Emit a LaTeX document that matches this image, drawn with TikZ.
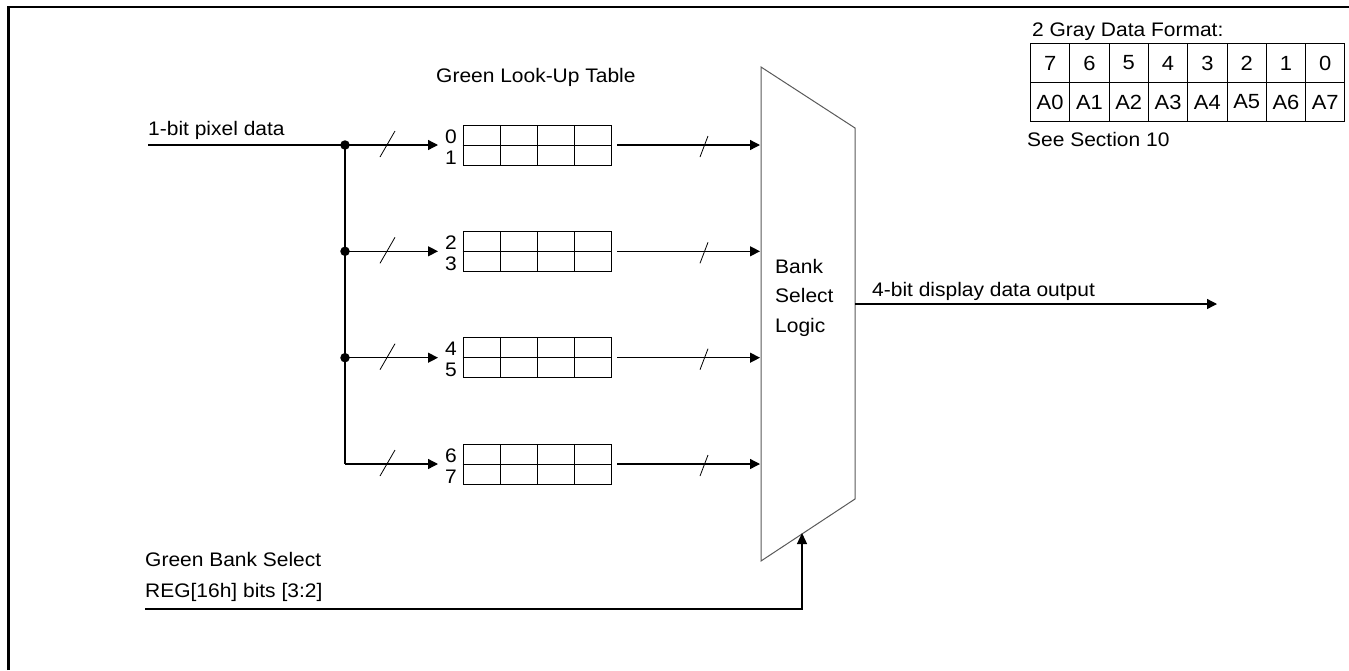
\documentclass[tikz,border=0pt]{standalone}
\usepackage{fontspec}
\setmainfont{Liberation Sans}
\usepackage{graphicx}
\usetikzlibrary{arrows.meta}
\newcommand\tx[1]{\scalebox{1.07}[1]{#1}}
\begin{document}
\begin{tikzpicture}[x=1pt,y=-1pt,
  lbl/.style={inner sep=0pt, anchor=base west, font=\fontsize{19.6}{22}\selectfont},
  conn/.style={line width=1.3pt},
  arr/.style={conn,-{Triangle[length=10pt,width=10pt]}},
  cell/.style={line width=1pt},
  lut/.style={draw, cell, minimum width=148pt, minimum height=40pt, inner sep=0pt},
  hcell/.style={draw, cell, minimum width=39.3pt, minimum height=39pt, inner sep=0pt, anchor=north west, font=\fontsize{20.5}{22}\selectfont},
  slash/.style={line width=0.8pt},
  dot/.style={circle, fill, inner sep=0pt, minimum size=9.5pt}
]
\useasboundingbox (0,0) rectangle (1349,670);
% frame
\draw[line width=2.7pt] (8.7,670) -- (8.7,7) -- (1349,7);

% texts
\node[lbl] (tpix) at (148,135) {\tx{1-bit pixel data}};
\node[lbl] (tlut) at (436,82) {\tx{Green Look-Up Table}};
\node[lbl] (tgbs) at (145,566) {\tx{Green Bank Select}};
\node[lbl] (treg) at (145,597) {\tx{REG[16h] bits [3:2]}};
\node[lbl] (tbank) at (775,273) {\tx{Bank}};
\node[lbl] (tsel) at (775,302) {\tx{Select}};
\node[lbl] (tlog) at (775,332) {\tx{Logic}};
\node[lbl] (tout) at (872,296) {\tx{4-bit display data output}};
\node[lbl] (tfmt) at (1032,36) {\tx{2 Gray Data Format:}};
\node[lbl] (tsec) at (1027,146) {\tx{See Section 10}};

% header table
\foreach \d [count=\k from 0] in {7,6,5,4,3,2,1,0}
  \node[hcell] (h\k) at ({1030+39.3*\k},43) {\tx{\d}};
\foreach \d [count=\k from 0] in {A0,A1,A2,A3,A4,A5,A6,A7}
  \node[hcell] (a\k) at ({1030+39.3*\k},82) {\tx{\d}};

% mux
\coordinate (mTL) at (761,67);
\coordinate (mTR) at (855,128);
\coordinate (mBR) at (855,499);
\coordinate (mBL) at (761,561);
\draw[black!65, line width=1pt] (mTL) -- (mTR) -- (mBR) -- (mBL) -- cycle;

% source line
\coordinate (src) at (148,145);
\coordinate (j1) at (345,145);
\coordinate (j2) at (345,251.3);
\coordinate (j3) at (345,357.7);
\coordinate (j4) at (345,464);
\draw[conn] (src) -- (j1);
\draw[conn] (j1) -- (j2) -- (j3) -- (j4);
\node[dot] (d1) at (j1) {};
\node[dot] (d2) at (j2) {};
\node[dot] (d3) at (j3) {};

% rows
\foreach \i/\m/\a/\b in {1/145/0/1, 2/251.3/2/3, 3/357.7/4/5, 4/464/6/7} {
  \node[lut] (lut\i) at (537,\m) {};
  \draw[cell] (lut\i.west) -- (lut\i.east);
  \foreach \c in {500,537,574}
    \draw[cell] (\c,\m-20) -- (\c,\m+20);
  \node[lbl, anchor=base east] (la\i) at (457,\m-2) {\tx{\a}};
  \node[lbl, anchor=base east] (lb\i) at (457,\m+19) {\tx{\b}};
  \coordinate (in\i) at (438,\m);
  \draw[arr] (j\i) -- (in\i);
  \draw[slash] (380,\m+12) -- (395,\m-14);
  \coordinate (o\i) at (617,\m);
  \coordinate (mi\i) at (760,\m);
  \draw[arr] (o\i) -- (mi\i);
  \draw[slash] (700,\m+12) -- (708,\m-9);
}

% output
\coordinate (mo) at (855,304);
\coordinate (dout) at (1217,304);
\draw[arr] (mo) -- (dout);

% bank select
\coordinate (bsrc) at (145,609);
\coordinate (bcorner) at (802,609);
\coordinate (btip) at (802,533);
\draw[conn,-{Triangle[length=11pt,width=10pt]}] (bsrc) -- (bcorner) -- (btip);
\end{tikzpicture}
\end{document}
